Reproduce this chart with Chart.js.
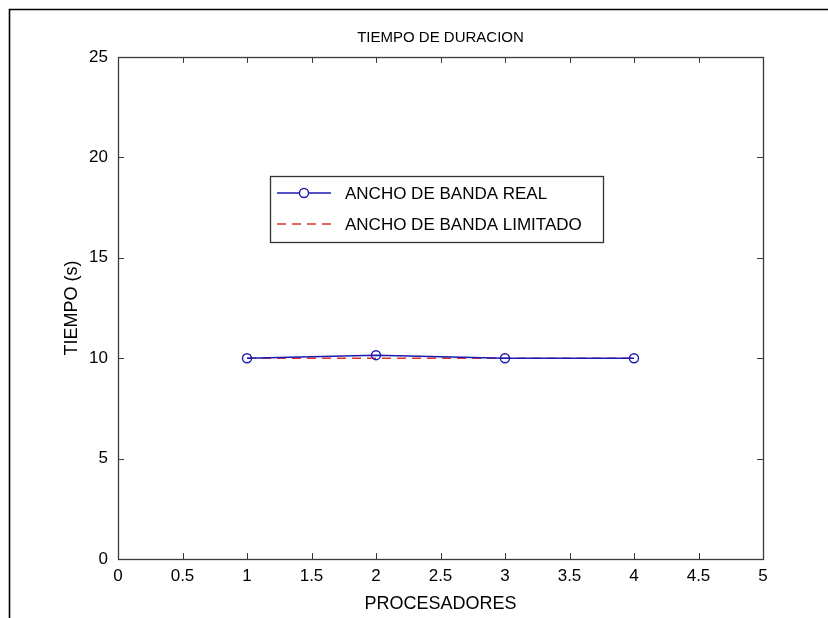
<!DOCTYPE html>
<html>
<head>
<meta charset="utf-8">
<script src="https://cdn.jsdelivr.net/npm/chart.js@4.4.1/dist/chart.umd.min.js"></script>
<style>
  html, body { margin: 0; padding: 0; background: #ffffff; }
  canvas { display: block; }
</style>
</head>
<body>
<canvas id="c" width="828" height="618"></canvas>
<script>
// ---- data ----
const procesadores = [1, 2, 3, 4];
const anchoReal = [10, 10.15, 10, 10];
const anchoLimitado = [10, 10, 10, 10];
const xTicks = [0, 0.5, 1, 1.5, 2, 2.5, 3, 3.5, 4, 4.5, 5];
const yTicks = [0, 5, 10, 15, 20, 25];
const labels = ['ANCHO DE BANDA REAL', 'ANCHO DE BANDA LIMITADO'];
const titleText = 'TIEMPO DE DURACION';
const xTitle = 'PROCESADORES';
const yTitle = 'TIEMPO (s)';

const FONT = "'Liberation Sans', Arial, Helvetica, sans-serif";
const BLUE = '#1a1ab4';
const RED = '#e5322a';

const toPts = (xs, ys) => xs.map((x, i) => ({ x: x, y: ys[i] }));

// outer frame (figure border)
const framePlugin = {
  id: 'frame',
  beforeDraw(chart) {
    const ctx = chart.ctx;
    ctx.save();
    ctx.fillStyle = '#ffffff';
    ctx.fillRect(0, 0, chart.width, chart.height);
    ctx.strokeStyle = '#000000';
    ctx.lineWidth = 1.6;
    ctx.beginPath();
    ctx.moveTo(9.5, chart.height);
    ctx.lineTo(9.5, 9.5);
    ctx.lineTo(chart.width, 9.5);
    ctx.stroke();
    ctx.restore();
  }
};

// axes box and inward ticks (MATLAB style)
const boxPlugin = {
  id: 'axbox',
  afterDraw(chart) {
    const ctx = chart.ctx;
    const a = chart.chartArea;
    const xs = chart.scales.x, ys = chart.scales.y;
    const L = 6;
    ctx.save();
    ctx.strokeStyle = '#3a3a3a';
    ctx.lineWidth = 1;
    ctx.beginPath();
    xs.ticks.forEach(t => {
      const p = Math.round(xs.getPixelForValue(t.value)) + 0.5;
      ctx.moveTo(p, a.bottom); ctx.lineTo(p, a.bottom - L);
      ctx.moveTo(p, a.top); ctx.lineTo(p, a.top + L);
    });
    ys.ticks.forEach(t => {
      const p = Math.round(ys.getPixelForValue(t.value)) + 0.5;
      ctx.moveTo(a.left, p); ctx.lineTo(a.left + L, p);
      ctx.moveTo(a.right, p); ctx.lineTo(a.right - L, p);
    });
    ctx.stroke();
    ctx.lineWidth = 1.3;
    ctx.strokeRect(Math.round(a.left) + 0.5, Math.round(a.top) + 0.5,
                   Math.round(a.right - a.left), Math.round(a.bottom - a.top));
    ctx.restore();
  }
};

// legend box drawn inside the axes
const legendPlugin = {
  id: 'matlabLegend',
  afterDraw(chart) {
    const ctx = chart.ctx;
    const a = chart.chartArea;
    const bx = a.left + 152, by = 176, bw = 333, bh = 66;
    ctx.save();
    ctx.fillStyle = '#ffffff';
    ctx.fillRect(bx, by, bw, bh);
    ctx.strokeStyle = '#333333';
    ctx.lineWidth = 1.3;
    ctx.strokeRect(bx + 0.5, by + 0.5, bw, bh);
    ctx.font = '17px ' + FONT;
    ctx.textBaseline = 'middle';
    ctx.fillStyle = '#000000';
    chart.data.datasets.forEach((ds, i) => {
      const yy = by + 17 + i * 31;
      ctx.strokeStyle = ds.borderColor;
      ctx.lineWidth = 1.4;
      ctx.setLineDash(ds.borderDash || []);
      ctx.beginPath();
      ctx.moveTo(bx + 7, yy);
      ctx.lineTo(bx + 61, yy);
      ctx.stroke();
      ctx.setLineDash([]);
      if (ds.pointRadius > 0) {
        ctx.beginPath();
        ctx.arc(bx + 34, yy, ds.pointRadius, 0, Math.PI * 2);
        ctx.fillStyle = '#ffffff';
        ctx.fill();
        ctx.stroke();
      }
      ctx.fillStyle = '#000000';
      ctx.fillText(ds.label, bx + 75, yy + 1);
    });
    ctx.restore();
  }
};

new Chart(document.getElementById('c'), {
  type: 'line',
  data: {
    datasets: [
      {
        label: labels[0],
        data: toPts(procesadores, anchoReal),
        borderColor: BLUE,
        backgroundColor: '#ffffff',
        borderWidth: 1.5,
        pointRadius: 4.5,
        pointBorderWidth: 1.4,
        pointBackgroundColor: 'rgba(255,255,255,0)',
        pointBorderColor: BLUE,
        fill: false,
        tension: 0
      },
      {
        label: labels[1],
        data: toPts(procesadores, anchoLimitado),
        borderColor: RED,
        backgroundColor: RED,
        borderWidth: 1.5,
        borderDash: [9, 6],
        pointRadius: 0,
        fill: false,
        tension: 0
      }
    ]
  },
  options: {
    responsive: false,
    animation: false,
    devicePixelRatio: 1,
    layout: { padding: { left: 0, top: 0, right: 65, bottom: 0 } },
    plugins: {
      legend: { display: false },
      tooltip: { enabled: false },
      title: {
        display: true,
        text: titleText,
        fullSize: false,
        color: '#000000',
        font: { family: FONT, size: 15, weight: 'normal' },
        padding: { top: 29, bottom: 10 }
      }
    },
    scales: {
      x: {
        type: 'linear',
        min: 0, max: 5,
        afterFit(scale) { scale.height = 59; },
        afterBuildTicks(scale) { scale.ticks = xTicks.map(v => ({ value: v })); },
        grid: { display: false, drawTicks: false },
        border: { display: false },
        ticks: {
          color: '#000000',
          padding: 7,
          maxRotation: 0,
          autoSkip: false,
          font: { family: FONT, size: 17 },
          callback: v => String(v)
        },
        title: {
          display: true,
          text: xTitle,
          color: '#000000',
          font: { family: FONT, size: 18 },
          padding: { top: 0, bottom: 3.2 }
        }
      },
      y: {
        type: 'linear',
        min: 0, max: 25,
        afterFit(scale) { scale.width = 118; },
        afterBuildTicks(scale) { scale.ticks = yTicks.map(v => ({ value: v })); },
        grid: { display: false, drawTicks: false },
        border: { display: false },
        ticks: {
          color: '#000000',
          padding: 10,
          autoSkip: false,
          font: { family: FONT, size: 17 },
          callback: v => String(v)
        },
        title: {
          display: true,
          text: yTitle,
          color: '#000000',
          font: { family: FONT, size: 18 },
          padding: { top: 61.2, bottom: 0 }
        }
      }
    }
  },
  plugins: [framePlugin, boxPlugin, legendPlugin]
});
</script>
</body>
</html>
